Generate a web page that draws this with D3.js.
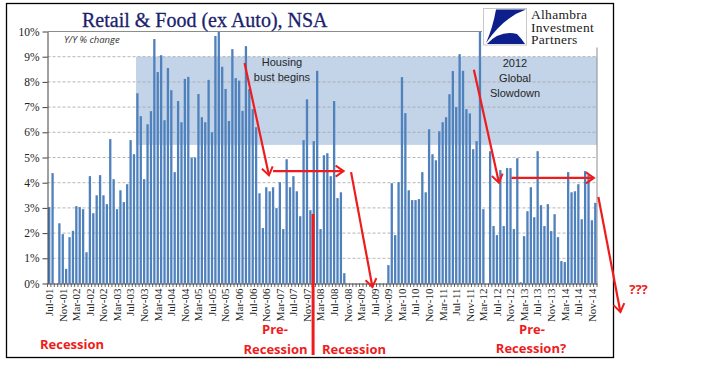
<!DOCTYPE html>
<html>
<head>
<meta charset="utf-8">
<script src="https://cdn.jsdelivr.net/npm/d3@7/dist/d3.min.js"></script>
<style>
  body { margin: 0; background: #fff; }
  svg { display: block; }
</style>
</head>
<body>
<svg id="drawing_region"></svg>
<script>
// Y/Y % change, retail & food ex auto, NSA (by year)
var v2001 = [3.03, 4.38, 0, 2.39, 1.96, 0.58];
var v2002 = [1.84, 2.09, 3.07, 3.03, 2.95, 1.24, 4.26, 2.79, 3.5, 4.3, 3.5, 3.15];
var v2003 = [5.73, 4.14, 2.95, 3.7, 3.23, 3.94, 5.69, 5.13, 7.55, 6.64, 4.14, 6.32];
var v2004 = [6.84, 9.7, 8.39, 9.06, 6.48, 8.55, 7.67, 4.42, 7.24, 6.4, 8.12, 8.2];
var v2005 = [5.0, 5.0, 7.52, 6.6, 6.4, 8.08, 6.0, 9.82, 9.98, 8.6, 7.72, 6.45];
var v2006 = [9.3, 8.15, 8.05, 6.85, 9.42, 7.72, 6.92, 6.2, 3.58, 2.2, 3.82, 3.66];
var v2007 = [3.82, 2.99, 4.02, 2.16, 4.93, 3.82, 4.26, 3.66, 2.67, 5.69, 7.31, 2.91];
var v2008 = [5.65, 8.44, 2.16, 5.09, 5.17, 4.26, 7.24, 3.39, 3.62, 0.41, 0, 0];
var v2009 = [0, 0, 0, 0, 0, 0, 0, 0, 0, 0, 0.73, 3.98];
var v2010 = [1.92, 4.02, 8.19, 6.76, 3.7, 3.31, 3.31, 3.35, 4.42, 3.62, 6.12, 5.13];
var v2011 = [4.89, 6.04, 6.4, 6.6, 7.51, 8.43, 7.0, 9.1, 8.44, 6.92, 6.75, 5.33];
var v2012 = [5.65, 9.98, 2.95, 0, 5.25, 2.28, 1.92, 4.5, 2.28, 4.58, 4.58, 2.16];
var v2013 = [4.97, 0.05, 1.88, 2.87, 3.82, 2.63, 5.25, 3.11, 2.28, 3.15, 2.08, 2.75];
var v2014 = [1.84, 0.89, 0.85, 4.42, 3.62, 3.66, 3.94, 2.55, 4.46, 4.3, 2.51, 3.2];

var tickLabels = ['Jul-01','Nov-01','Mar-02','Jul-02','Nov-02','Mar-03','Jul-03','Nov-03',
  'Mar-04','Jul-04','Nov-04','Mar-05','Jul-05','Nov-05','Mar-06','Jul-06','Nov-06',
  'Mar-07','Jul-07','Nov-07','Mar-08','Jul-08','Nov-08','Mar-09','Jul-09','Nov-09',
  'Mar-10','Jul-10','Nov-10','Mar-11','Jul-11','Nov-11','Mar-12','Jul-12','Nov-12',
  'Mar-13','Jul-13','Nov-13','Mar-14','Jul-14','Nov-14'];
var yTicks = [0, 1, 2, 3, 4, 5, 6, 7, 8, 9, 10];

var values = [].concat(v2001, v2002, v2003, v2004, v2005, v2006, v2007,
                       v2008, v2009, v2010, v2011, v2012, v2013, v2014);
var fmt = d3.timeFormat('%b-%y');
var months = d3.timeMonths(new Date(2001, 6, 1), new Date(2015, 0, 1)).map(fmt);
var data = months.map(function(m, i) { return { month: m, value: values[i] }; });

var width = 728, height = 375;
var plot = { left: 47.5, right: 597, top: 31.5, bottom: 283.5 };
var red = '#ee1c1c';

var svg = d3.select('#drawing_region')
    .attr('width', width)
    .attr('height', height);

var xScale = d3.scaleBand()
    .domain(months)
    .range([plot.left, plot.right])
    .paddingInner(0.32)
    .paddingOuter(0.16);

var yScale = d3.scaleLinear()
    .domain([0, 10])
    .range([plot.bottom, plot.top]);

// month position by (fractional) index, for annotations
var xAt = function(i) { return plot.left + xScale.step() * (i + 0.5); };

var defs = svg.append('defs');
defs.append('marker')
    .attr('id', 'arrow')
    .attr('markerUnits', 'userSpaceOnUse')
    .attr('markerWidth', 14).attr('markerHeight', 14)
    .attr('refX', 10).attr('refY', 7)
    .attr('orient', 'auto')
    .append('path')
    .attr('d', 'M2,1.5 L10,7 L2,12.5')
    .attr('fill', 'none')
    .attr('stroke', red)
    .attr('stroke-width', 2);

// outer frame
svg.append('rect')
    .attr('x', 6.5).attr('y', 3.5)
    .attr('width', 607).attr('height', 354)
    .attr('fill', '#fff')
    .attr('stroke', '#000')
    .attr('stroke-width', 1.3);

// shaded band 5.5% - 9%
svg.append('rect')
    .attr('x', xAt(25.6))
    .attr('y', yScale(9))
    .attr('width', plot.right - xAt(25.6))
    .attr('height', yScale(5.5) - yScale(9))
    .attr('fill', '#c3d4e9');

// gridlines
svg.append('g')
    .selectAll('line')
    .data(yTicks.filter(function(d) { return d > 0 && d < 10; }))
    .enter()
    .append('line')
    .attr('x1', plot.left).attr('x2', plot.right)
    .attr('y1', d => yScale(d)).attr('y2', d => yScale(d))
    .attr('stroke', '#a3a3a3')
    .attr('stroke-width', 0.8)
    .attr('stroke-dasharray', '3,2');

// plot area border (top, right)
svg.append('path')
    .attr('d', 'M' + plot.left + ',' + plot.top + 'H' + plot.right + 'V' + plot.bottom)
    .attr('fill', 'none')
    .attr('stroke', '#8c8c8c')
    .attr('stroke-width', 1);

// bars
svg.append('g')
    .selectAll('rect')
    .data(data)
    .enter()
    .append('rect')
    .attr('x', d => xScale(d.month))
    .attr('y', d => yScale(d.value))
    .attr('width', xScale.bandwidth())
    .attr('height', d => yScale(0) - yScale(d.value))
    .attr('fill', '#4f81bd');

// y axis
var yAxis = svg.append('g')
    .attr('transform', 'translate(' + plot.left + ',0)')
    .call(d3.axisLeft(yScale).tickValues(yTicks).tickSize(5).tickSizeOuter(0)
          .tickFormat(d => d + '%'));
yAxis.select('.domain').attr('stroke', '#404040');
yAxis.selectAll('.tick line').attr('stroke', '#404040');
yAxis.selectAll('.tick text')
    .attr('x', -8)
    .style('font-family', '"Liberation Serif", serif')
    .style('font-size', '11.5px')
    .attr('fill', '#222');

// x axis: labels every 4 months, tick marks between every month
var xAxis = svg.append('g')
    .attr('transform', 'translate(0,' + plot.bottom + ')')
    .call(d3.axisBottom(xScale).tickValues(tickLabels).tickSize(0).tickSizeOuter(0));
xAxis.select('.domain').attr('stroke', '#404040');
xAxis.selectAll('.tick text')
    .attr('transform', 'rotate(-90)')
    .attr('x', -5)
    .attr('y', 0)
    .attr('dy', '0.35em')
    .attr('text-anchor', 'end')
    .style('font-family', '"Liberation Serif", serif')
    .style('font-size', '11px')
    .attr('fill', '#222');

svg.append('g')
    .selectAll('line')
    .data(d3.range(months.length + 1))
    .enter()
    .append('line')
    .attr('x1', i => plot.left + i * xScale.step())
    .attr('x2', i => plot.left + i * xScale.step())
    .attr('y1', plot.bottom)
    .attr('y2', plot.bottom + 3.5)
    .attr('stroke', '#404040')
    .attr('stroke-width', 0.8);

// title
svg.append('text')
    .attr('x', 82)
    .attr('y', 27)
    .style('font-family', '"Liberation Serif", serif')
    .style('font-size', '20px')
    .attr('fill', '#1b1f6e')
    .attr('stroke', '#1b1f6e')
    .attr('stroke-width', 0.3)
    .text('Retail & Food (ex Auto), NSA');

svg.append('text')
    .attr('x', 64)
    .attr('y', 43)
    .style('font-family', '"Open Sans", sans-serif')
    .style('font-size', '9.5px')
    .style('font-style', 'italic')
    .attr('fill', '#333')
    .text('Y/Y % change');

// logo block
var logo = svg.append('g');
logo.append('rect')
    .attr('x', 482).attr('y', 5)
    .attr('width', 118).attr('height', 42.5)
    .attr('fill', '#fff');
logo.append('rect')
    .attr('x', 483.5).attr('y', 8.5)
    .attr('width', 43).attr('height', 36.5)
    .attr('fill', '#fff')
    .attr('stroke', '#c8c8c8');
logo.append('path')
    .attr('d', 'M496,9.5 L526,9.5 Q504,17 486,43 Q493,27 496,9.5 Z')
    .attr('fill', '#0d1f8c');
logo.append('path')
    .attr('d', 'M487,44 Q500,30 517,34 Q521,38 525,44 Z')
    .attr('fill', '#0d1f8c');
logo.selectAll('text.logo')
    .data(['Alhambra', 'Investment', 'Partners'])
    .enter()
    .append('text')
    .attr('x', 531)
    .attr('y', (d, i) => 19 + i * 12.5)
    .style('font-family', '"Liberation Serif", serif')
    .style('font-size', '13.5px')
    .style('letter-spacing', '0.3px')
    .attr('fill', '#1a1a1a')
    .text(d => d);

// grey notes
function note(lines, cx, y0, dy) {
    svg.append('g').selectAll('text')
        .data(lines)
        .enter()
        .append('text')
        .attr('x', cx)
        .attr('y', (d, i) => y0 + i * dy)
        .attr('text-anchor', 'middle')
        .style('font-family', '"Liberation Sans", sans-serif')
        .style('font-size', '11px')
        .attr('fill', '#262626')
        .text(d => d);
}
note(['Housing', 'bust begins'], 282, 66, 14.5);
note(['2012', 'Global', 'Slowdown'], 515, 67, 15);

// red arrows, in (month index, %) coordinates
var arrows = [
    [[57.6, 8.75], [64.8, 4.29]],
    [[66.0, 4.46], [86.8, 4.46]],
    [[89.0, 4.42], [95.3, -0.14]],
    [[125.2, 8.48], [132.6, 4.0]],
    [[136.3, 4.19], [160.6, 4.19]],
    [[161.9, 3.43], [168.4, -1.13]]
];
svg.append('g')
    .selectAll('line')
    .data(arrows)
    .enter()
    .append('line')
    .attr('x1', d => xAt(d[0][0])).attr('y1', d => yScale(d[0][1]))
    .attr('x2', d => xAt(d[1][0])).attr('y2', d => yScale(d[1][1]))
    .attr('stroke', red)
    .attr('stroke-width', 2.2)
    .attr('marker-end', 'url(#arrow)');

// recession start line (Dec-07 / Jan-08)
svg.append('line')
    .attr('x1', xAt(77.8)).attr('x2', xAt(77.8))
    .attr('y1', yScale(2.76)).attr('y2', 355)
    .attr('stroke', red)
    .attr('stroke-width', 3);

// red labels
var redLabels = [
    { text: 'Recession', x: 72, y: 349 },
    { text: 'Pre-', x: 275, y: 334 },
    { text: 'Recession', x: 275.5, y: 354 },
    { text: 'Recession', x: 354, y: 354 },
    { text: 'Pre-', x: 532, y: 334 },
    { text: 'Recession?', x: 531, y: 353 },
    { text: '???', x: 638.5, y: 294 }
];
svg.append('g')
    .selectAll('text')
    .data(redLabels)
    .enter()
    .append('text')
    .attr('x', d => d.x)
    .attr('y', d => d.y)
    .attr('text-anchor', 'middle')
    .style('font-family', '"Open Sans", sans-serif')
    .style('font-size', '13px')
    .style('font-weight', 'bold')
    .attr('fill', red)
    .text(d => d.text);
</script>
</body>
</html>
